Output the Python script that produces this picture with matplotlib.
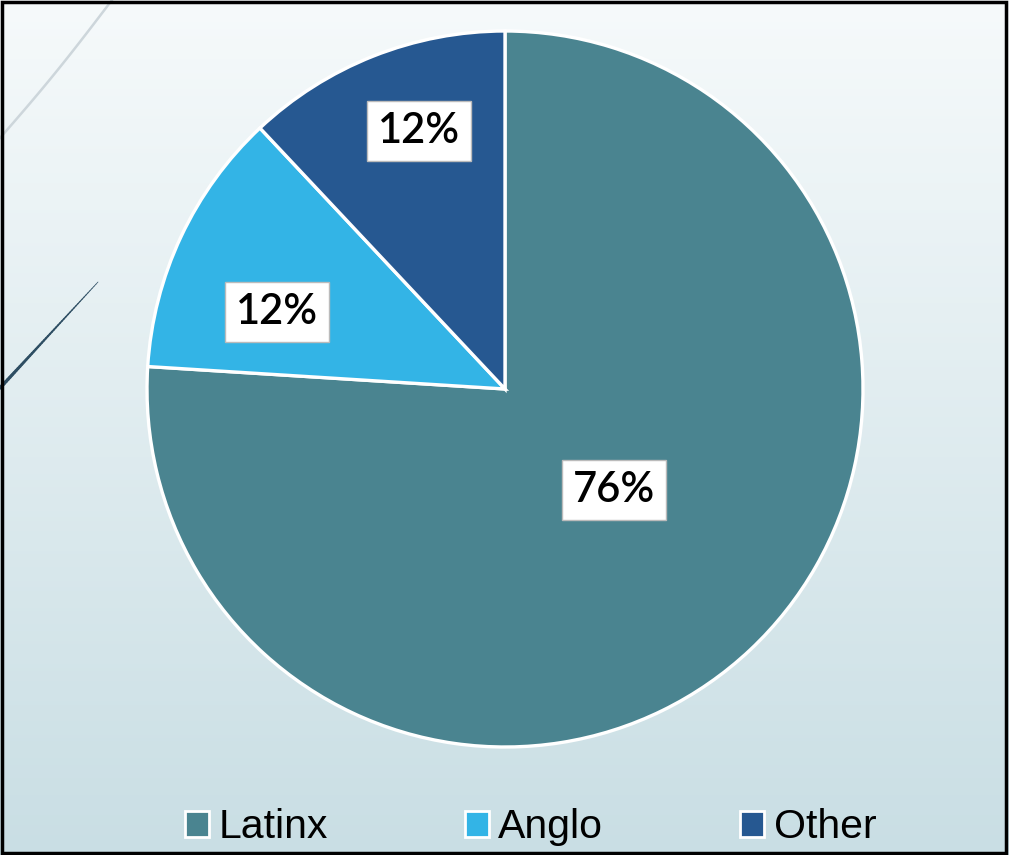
import matplotlib.pyplot as plt
from matplotlib.patches import Patch
import numpy as np

labels = ['Latinx', 'Anglo', 'Other']
values = [76, 12, 12]
colors = ['#4A8490', '#33B4E6', '#265891']

W, H = 1009, 855
fig = plt.figure(figsize=(W / 100, H / 100), dpi=100)

# background gradient
bg = fig.add_axes([0, 0, 1, 1])
grad = np.linspace(0, 1, 256).reshape(-1, 1)
top = np.array([0.965, 0.980, 0.984])
bot = np.array([0.788, 0.871, 0.894])
img = top + (bot - top) * grad[..., None]
bg.imshow(img, aspect='auto', extent=[0, W, H, 0])
bg.set_xlim(0, W)
bg.set_ylim(H, 0)
bg.axis('off')

# decorative strokes on the left
t = np.linspace(0, 1, 50)
bg.plot(112 - 112 * t, 138 * t + 3 * np.sin(np.pi * t), color='#CDD6DB', lw=1.8)
for i in range(len(t) - 1):
    bg.plot([98 - 98 * t[i], 98 - 98 * t[i + 1]], [282 + 106 * t[i], 282 + 106 * t[i + 1]],
            color='#2E4E63', lw=0.5 + 2.0 * t[i], solid_capstyle='round')

ax = fig.add_axes([0, 0, 1, 1])

wedges, texts, autotexts = ax.pie(values, colors=colors, startangle=90, counterclock=False,
                                  center=(505, H - 389), radius=358,
                                  autopct='%d%%', pctdistance=0.0,
                                  wedgeprops=dict(edgecolor='white', linewidth=2.4))
ax.set_xlim(0, W)
ax.set_ylim(0, H)
ax.set_aspect('equal')
ax.axis('off')

# label positions (pixel centres)
label_pos = [(614, H - 490), (277, H - 312), (419, H - 131)]
for at, (x, y) in zip(autotexts, label_pos):
    at.set_position((x, y))
    at.set_fontsize(30)
    at.set_family('Lato')
    at.set_weight('semibold')
    at.set_color('black')
    at.set_ha('center')
    at.set_va('center')
    at.set_bbox(dict(boxstyle='square,pad=0.26', facecolor='white', edgecolor='#BBBBBB', linewidth=1))

handles = [Patch(facecolor=c, edgecolor='white', linewidth=2) for c in colors]
leg = ax.legend(handles, labels, loc='lower center', bbox_to_anchor=(0.526, -0.033),
                bbox_transform=fig.transFigure, ncol=3, frameon=False,
                prop={'family': 'Liberation Sans', 'size': 29.5},
                handlelength=0.58, handleheight=0.58, handletextpad=0.24, columnspacing=3.34)

# black border
fig.patches.append(plt.Rectangle((0.002, 0.002), 0.995, 0.996, transform=fig.transFigure,
                                 fill=False, edgecolor='black', linewidth=2.5))

fig.savefig('out.png', dpi=100)
